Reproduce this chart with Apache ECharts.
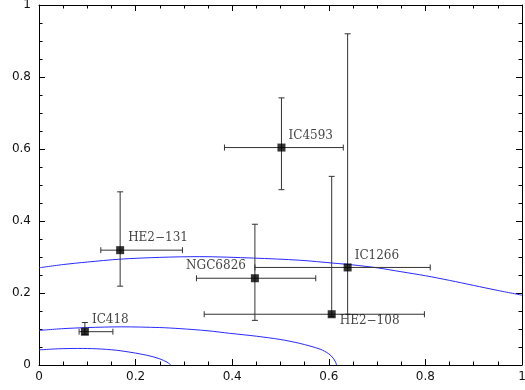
<!DOCTYPE html>
<html>
<head>
<meta charset="utf-8">
<script src="https://cdn.jsdelivr.net/npm/echarts@6/dist/echarts.min.js"></script>
<style>
  html, body { margin: 0; padding: 0; background: #fff; }
  #chart { width: 525px; height: 390px; }
</style>
</head>
<body>
<div id="chart"></div>
<script>
// objects
const names = ["HE2\u2212131", "IC418", "IC4593", "NGC6826", "IC1266", "HE2\u2212108"];
const ecc   = [0.168, 0.095, 0.502, 0.447, 0.639, 0.606];
const eccLo = [0.128, 0.083, 0.384, 0.326, 0.447, 0.342];
const eccHi = [0.297, 0.153, 0.630, 0.573, 0.810, 0.798];
const nze   = [0.319, 0.0925, 0.604, 0.241, 0.271, 0.141];
const nzeLo = [0.219, 0.085, 0.487, 0.124, 0.141, 0.135];
const nzeHi = [0.481, 0.118, 0.742, 0.391, 0.920, 0.524];

// blue curves
const curveOuter = [[0, 0.270], [0.05, 0.279], [0.1, 0.286], [0.168, 0.294], [0.25, 0.299], [0.333, 0.301],
  [0.444, 0.297], [0.54, 0.291], [0.609, 0.283], [0.65, 0.278], [0.7, 0.270], [0.75, 0.259],
  [0.8, 0.248], [0.85, 0.235], [0.9, 0.221], [0.95, 0.207], [1.0, 0.194]];
const curveMid = [[0, 0.096], [0.05, 0.101], [0.1, 0.104], [0.17, 0.106], [0.25, 0.104], [0.292, 0.101],
  [0.35, 0.095], [0.395, 0.088], [0.45, 0.080], [0.499, 0.071], [0.54, 0.060], [0.582, 0.044],
  [0.6, 0.031], [0.609, 0.019], [0.614, 0.008], [0.616, 0]];
const curveInner = [[0, 0.042], [0.04, 0.045], [0.08, 0.046], [0.12, 0.045], [0.16, 0.041], [0.2, 0.033],
  [0.23, 0.025], [0.25, 0.017], [0.265, 0.008], [0.273, 0]];

// label placement per object: [align, dx, dy]
const labelPlace = {
  "HE2\u2212131": ["left", 8, -12],
  "IC418": ["left", 7, -12],
  "IC4593": ["left", 7, -12],
  "NGC6826": ["right", -9, -12],
  "IC1266": ["left", 7, -12],
  "HE2\u2212108": ["left", 8, 7]
};

const FG = "#111";
const SERIF = "'DejaVu Serif', serif";
const SANS = "'DejaVu Sans', sans-serif";

function axisBase(extra) {
  return Object.assign({
    type: "value", min: 0, max: 1, interval: 0.2,
    axisLine: { show: true, onZero: false, lineStyle: { color: "#000", width: 1 } },
    axisTick: { show: true, inside: true, length: 6, lineStyle: { color: "#000" } },
    minorTick: { show: true, splitNumber: 4, length: 3.5, lineStyle: { color: "#000" } },
    splitLine: { show: false },
    axisLabel: { show: false }
  }, extra);
}

const errData = names.map((n, i) => [ecc[i], nze[i], eccLo[i], eccHi[i], nzeLo[i], nzeHi[i]]);

function renderErr(params, api) {
  const c = api.coord([api.value(0), api.value(1)]);
  const l = api.coord([api.value(2), api.value(1)]);
  const r = api.coord([api.value(3), api.value(1)]);
  const b = api.coord([api.value(0), api.value(4)]);
  const t = api.coord([api.value(0), api.value(5)]);
  const cap = 3;
  const st = { stroke: "#333", lineWidth: 1 };
  const seg = (x1, y1, x2, y2) => ({ type: "line", shape: { x1, y1, x2, y2 }, style: st });
  return {
    type: "group",
    children: [
      seg(l[0], c[1], r[0], c[1]),
      seg(l[0], c[1] - cap, l[0], c[1] + cap),
      seg(r[0], c[1] - cap, r[0], c[1] + cap),
      seg(c[0], b[1], c[0], t[1]),
      seg(c[0] - cap, b[1], c[0] + cap, b[1]),
      seg(c[0] - cap, t[1], c[0] + cap, t[1])
    ]
  };
}

const chart = echarts.init(document.getElementById("chart"), null, { renderer: "canvas" });

const option = {
  animation: false,
  backgroundColor: "#fff",
  grid: { left: 39, right: 3, top: 5, bottom: 25, containLabel: false, outerBoundsMode: "none" },
  xAxis: [
    axisBase({
      position: "bottom",
      name: "ecc", nameLocation: "middle", nameGap: 20,
      nameTextStyle: { color: FG, fontFamily: SANS, fontSize: 11 },
      axisLabel: { show: true, color: FG, fontFamily: SANS, fontSize: 12, margin: 6,
        formatter: v => String(Math.round(v * 10) / 10) }
    }),
    axisBase({ position: "top" })
  ],
  yAxis: [
    axisBase({
      position: "left",
      name: "nze", nameLocation: "middle", nameGap: 29,
      nameTextStyle: { color: FG, fontFamily: SANS, fontSize: 11 },
      axisLabel: { show: true, color: FG, fontFamily: SANS, fontSize: 12, margin: 8,
        formatter: v => String(Math.round(v * 10) / 10) }
    }),
    axisBase({ position: "right" })
  ],
  series: [
    { type: "line", data: curveOuter, smooth: 0.3, symbol: "none", lineStyle: { color: "#2a2aff", width: 1 }, z: 1 },
    { type: "line", data: curveMid, smooth: 0.3, symbol: "none", lineStyle: { color: "#2a2aff", width: 1 }, z: 1 },
    { type: "line", data: curveInner, smooth: 0.3, symbol: "none", lineStyle: { color: "#2a2aff", width: 1 }, z: 1 },
    { type: "custom", data: errData, renderItem: renderErr, z: 2, encode: { x: [0, 2, 3], y: [1, 4, 5] } },
    {
      type: "scatter", symbol: "rect", symbolSize: 8, z: 3,
      itemStyle: { color: "#000" },
      data: names.map((n, i) => ({
        value: [ecc[i], nze[i]],
        name: n,
        label: {
          show: true, formatter: n, position: "inside",
          align: labelPlace[n][0], verticalAlign: "middle",
          offset: [labelPlace[n][1], labelPlace[n][2]],
          color: FG, fontFamily: SERIF, fontSize: 12
        }
      }))
    }
  ]
};

chart.setOption(option);
</script>
</body>
</html>
